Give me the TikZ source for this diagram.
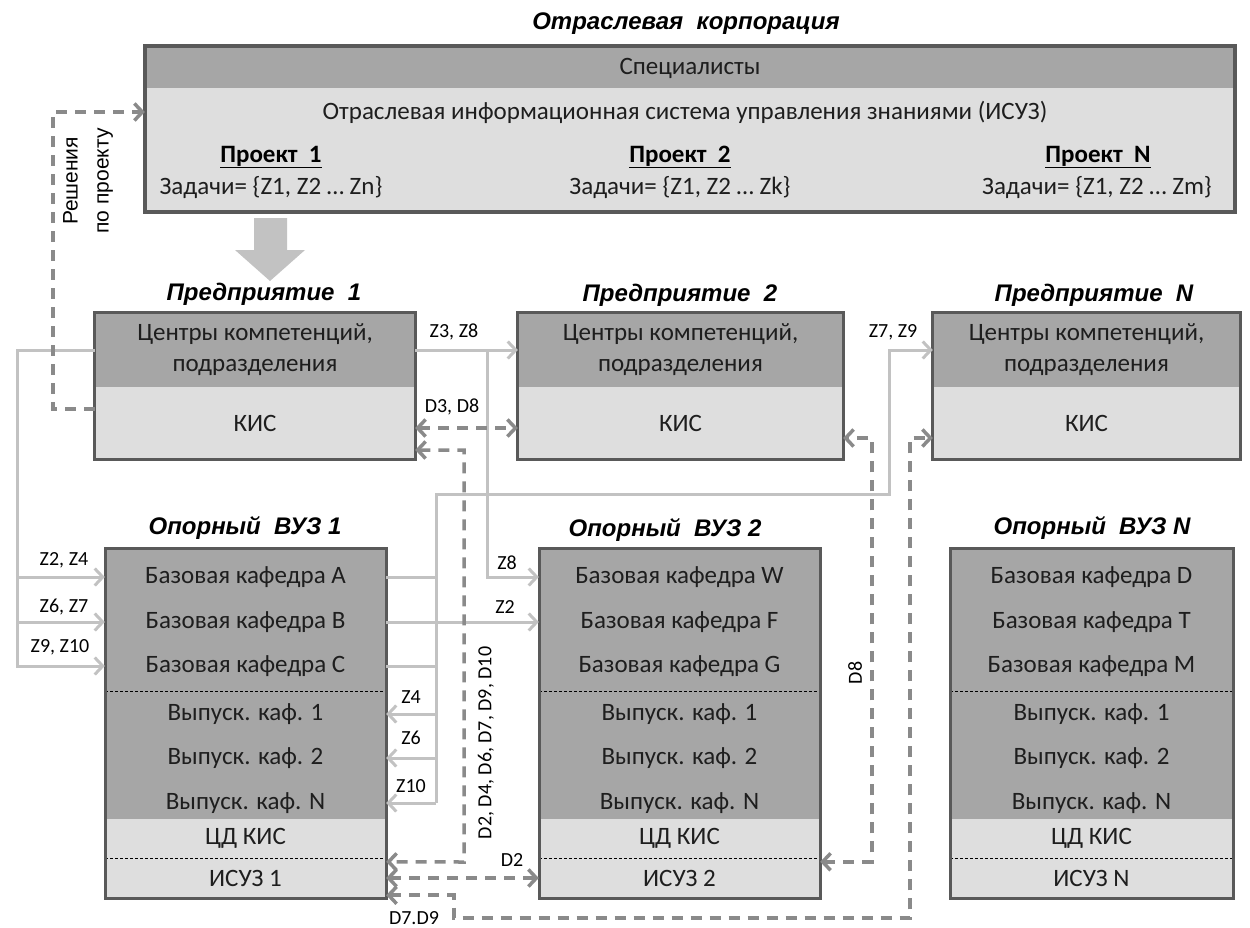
\documentclass[tikz,border=0pt]{standalone}
\usepackage{fontspec}
\setmainfont{Carlito}
\newfontfamily\headfont{Liberation Sans}
\usetikzlibrary{arrows.meta}

\definecolor{bandD}{HTML}{A6A6A6}
\definecolor{bandL}{HTML}{DEDEDE}
\definecolor{frm}{HTML}{595959}
\definecolor{zgray}{HTML}{C2C2C2}
\definecolor{dgray}{HTML}{8A8A8A}
\definecolor{txt}{HTML}{1E1E1E}

\begin{document}
\begin{tikzpicture}[x=1pt, y=-1pt,
  every node/.style={font=\fontsize{25}{30}\selectfont, text=txt, inner sep=0pt},
  title/.style={font=\headfont\bfseries\itshape\fontsize{24}{28}\selectfont, text=black},
  lbl/.style={font=\fontsize{20}{24}\selectfont, text=black},
  proj/.style={font=\bfseries\fontsize{25}{30}\selectfont, text=black},
  ecent/.style={fill=bandD, minimum height=74pt, align=center, font=\fontsize{25}{31}\selectfont},
  ekis/.style={fill=bandL, minimum height=72pt},
  row/.style={minimum width=281pt, minimum height=24pt},
  frame/.style={draw=frm, line width=3pt},
  sep/.style={draw=black, line width=0.8pt, dash pattern=on 3pt off 2pt},
  >={Straight Barb[length=8pt,width=17pt]},
  zline/.style={draw=zgray, line width=3pt, ->},
  dline/.style={draw=dgray, line width=3.5pt, dash pattern=on 11pt off 8pt},
]
\useasboundingbox (0,0) rectangle (1250,927);

% corporation
\node[title] (corpt) at (686,24) {Отраслевая\ \ корпорация};
\node[fill=bandL, minimum width=1090pt, minimum height=166pt] (corp) at (690,129) {};
\fill[bandD] (corp.north west) rectangle (1235,88);
\draw[frame, line width=4pt] (corp.north west) rectangle (corp.south east);
\node (spec) at (690,68) {Специалисты};
\node (isuz) at (685,112) {Отраслевая информационная система управления знаниями (ИСУЗ)};
\node[proj] (p1) at (271,157) {\underline{Проект\ \ 1}};
\node (t1) at (271,188) {Задачи= \{Z1, Z2 … Zn\}};
\node[proj] (p2) at (680,157) {\underline{Проект\ \ 2}};
\node (t2) at (680,188) {Задачи= \{Z1, Z2 … Zk\}};
\node[proj] (pn) at (1098,157) {\underline{Проект\ \ N}};
\node (tn) at (1097,188) {Задачи= \{Z1, Z2 … Zm\}};

% big arrow down
\fill[zgray] (254,218) -- (287,218) -- (287,250) -- (305,250) -- (270,281) -- (235,250) -- (254,250) -- cycle;

% enterprises
\node[title] (e1t) at (264,294) {Предприятие\ \ 1};
\node[ecent, minimum width=320pt] (e1c) at (255,350) {Центры компетенций,\\подразделения};
\node[ekis, minimum width=320pt] (e1k) at (255,423) {КИС};
\draw[frame] (e1c.north west) rectangle (e1k.south east);

\node[title] (e2t) at (680,295) {Предприятие\ \ 2};
\node[ecent, minimum width=325pt] (e2c) at (680.5,350) {Центры компетенций,\\подразделения};
\node[ekis, minimum width=325pt] (e2k) at (680.5,423) {КИС};
\draw[frame] (e2c.north west) rectangle (e2k.south east);

\node[title] (ent) at (1094,295) {Предприятие\ \ N};
\node[ecent, minimum width=307pt] (enc) at (1086.5,350) {Центры компетенций,\\подразделения};
\node[ekis, minimum width=307pt] (enk) at (1086.5,423) {КИС};
\draw[frame] (enc.north west) rectangle (enk.south east);

% universities
\node[title] (v1t) at (245,528) {Опорный\ \ ВУЗ 1};
\fill[bandD] (105,548) rectangle (386,819);
\fill[bandL] (105,819) rectangle (386,898);
\node[row] (v1a) at (245.5,577) {Базовая кафедра А};
\node[row] (v1b) at (245.5,622) {Базовая кафедра В};
\node[row] (v1c) at (245.5,666) {Базовая кафедра С};
\draw[sep] (105,691) -- (386,691);
\node[row] (v1g1) at (245.5,714) {Выпуск. каф. 1};
\node[row] (v1g2) at (245.5,758) {Выпуск. каф. 2};
\node[row] (v1gn) at (245.5,803) {Выпуск. каф. N};
\node[row] (v1d) at (245.5,838) {ЦД КИС};
\draw[sep] (105,858) -- (386,858);
\node[row, minimum height=40pt] (v1i) at (245.5,878) {ИСУЗ 1};
\draw[frame] (105,548) rectangle (386,898);

\node[title] (v2t) at (665,530) {Опорный\ \ ВУЗ 2};
\fill[bandD] (539,548) rectangle (820,819);
\fill[bandL] (539,819) rectangle (820,898);
\node[row] (v2a) at (679.5,577) {Базовая кафедра W};
\node[row] (v2b) at (679.5,622) {Базовая кафедра F};
\node[row] (v2c) at (679.5,666) {Базовая кафедра G};
\draw[sep] (539,691) -- (820,691);
\node[row] (v2g1) at (679.5,714) {Выпуск. каф. 1};
\node[row] (v2g2) at (679.5,758) {Выпуск. каф. 2};
\node[row] (v2gn) at (679.5,803) {Выпуск. каф. N};
\node[row] (v2d) at (679.5,838) {ЦД КИС};
\draw[sep] (539,858) -- (820,858);
\node[row, minimum height=40pt] (v2i) at (679.5,878) {ИСУЗ 2};
\draw[frame] (539,548) rectangle (820,898);

\node[title] (vnt) at (1092,528) {Опорный\ \ ВУЗ N};
\fill[bandD] (950,548) rectangle (1233,819);
\fill[bandL] (950,819) rectangle (1233,898);
\node[row] (vna) at (1091.5,577) {Базовая кафедра D};
\node[row] (vnb) at (1091.5,622) {Базовая кафедра T};
\node[row] (vnc) at (1091.5,666) {Базовая кафедра M};
\draw[sep] (950,691) -- (1233,691);
\node[row] (vng1) at (1091.5,714) {Выпуск. каф. 1};
\node[row] (vng2) at (1091.5,758) {Выпуск. каф. 2};
\node[row] (vngn) at (1091.5,803) {Выпуск. каф. N};
\node[row] (vnd) at (1091.5,838) {ЦД КИС};
\draw[sep] (950,858) -- (1233,858);
\node[row, minimum height=40pt] (vni) at (1091.5,878) {ИСУЗ N};
\draw[frame] (950,548) rectangle (1233,898);

% tasks (solid)
\coordinate (lbus) at (17,350);
\draw[zline] (e1c.west) -- (lbus) |- (v1c.west);
\draw[zline] (lbus |- v1a.west) -- (v1a.west);
\draw[zline] (lbus |- v1b.west) -- (v1b.west);
\node[lbl] (lz24) at (64,560) {Z2, Z4};
\node[lbl] (lz67) at (64,607) {Z6, Z7};
\node[lbl] (lz910) at (60,647) {Z9, Z10};

\draw[zline] (e1c.east) -- (e2c.west);
\coordinate (z8bus) at (487,350);
\draw[zline] (z8bus) |- (v2a.west);
\node[lbl] (lz38) at (454,332) {Z3, Z8};
\node[lbl] (lz8) at (507,563) {Z8};

\draw[zline] (v1b.east) -- (v2b.west);
\node[lbl] (lz2) at (505,607) {Z2};

\coordinate (rbus) at (436,494);
\coordinate (nbus) at (889,494);
\draw[zline] (v1a.east) -| (rbus) -- (nbus) |- (enc.west);
\draw[zline, -] (rbus |- v1a.east) -- (rbus |- v1gn.east);
\draw[zline, -] (v1c.east) -- (rbus |- v1c.east);
\draw[zline] (rbus |- v1g1.east) -- (v1g1.east);
\draw[zline] (rbus |- v1g2.east) -- (v1g2.east);
\draw[zline] (rbus |- v1gn.east) -- (v1gn.east);
\node[lbl] (lz4) at (411,697) {Z4};
\node[lbl] (lz6) at (411,738) {Z6};
\node[lbl] (lz10) at (411,786) {Z10};
\node[lbl] (lz79) at (893,332) {Z7, Z9};

% data (dashed)
\draw[dline, <->] ([yshift=-5pt]e1k.east) -- ([yshift=-5pt]e2k.west);
\node[lbl] (ld38) at (452,407) {D3, D8};

\coordinate (dbus) at (464,862);
\draw[dline, <->] ([yshift=-27pt]e1k.east) -| (dbus) -- ([yshift=-4pt]v1i.north east);
\node[lbl, rotate=90] (ldd) at (486,743) {D2, D4, D6, D7, D9, D10};

\draw[dline, <->] (v1i.east) -- (v2i.west);
\node[lbl] (ld2) at (512,860) {D2};

\coordinate (d8bus) at (872,438);
\draw[dline, <->] ([yshift=-4pt]v2i.north east) -| (d8bus) -- ([yshift=-15pt]e2k.east);
\node[lbl, rotate=90] (ld8) at (855,673) {D8};

\coordinate (d79a) at (454,918);
\coordinate (d79b) at (910,918);
\draw[dline, <->] ([yshift=3pt]v1i.south east) -| (d79a) -- (d79b) |- ([yshift=-15pt]enk.west);
\node[lbl] (ld79) at (414,918) {D7.D9};

\coordinate (solbus) at (53,112);
\draw[dline, ->] ([yshift=14pt]e1k.west) -| (solbus) -- (solbus -| corp.west);
\node[font=\headfont\fontsize{21}{31}\selectfont, text=black, rotate=90, align=center] (lsol) at (88,181) {Решения\\по проекту};
\end{tikzpicture}
\end{document}
